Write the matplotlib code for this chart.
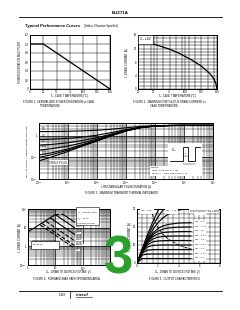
import numpy as np
import matplotlib
matplotlib.use("Agg")
import matplotlib.pyplot as plt
from matplotlib.ticker import MultipleLocator, LogLocator, NullFormatter, FixedLocator, FixedFormatter

plt.rcParams['font.family'] = ['Liberation Sans', 'DejaVu Sans']
plt.rcParams['mathtext.fontset'] = 'custom'
plt.rcParams['mathtext.rm'] = 'Liberation Sans'
plt.rcParams['mathtext.it'] = 'Liberation Sans:italic'

# ---------------- data ----------------
# Figure 1: normalized power dissipation
fig1_temp = [0, 25, 150]
fig1_mult = [1.0, 1.0, 0.0]

# Figure 2: max continuous drain current vs case temperature
fig2_temp = [25, 40, 50, 60, 75, 90, 100, 110, 125, 135, 140, 145, 148, 150]
fig2_id = [14.0, 13.8, 13.3, 12.7, 11.8, 10.6, 9.6, 8.6, 6.8, 5.2, 4.3, 3.0, 1.8, 0.0]

# Figure 3: transient thermal impedance
fig3_t = [1e-5, 3e-5, 1e-4, 3e-4, 1e-3, 3e-3, 1e-2, 3e-2, 1e-1, 3e-1, 1, 3, 10]
fig3_labels = ["0.5", "0.2", "0.1", "0.05", "0.02", "0.01", "SINGLE PULSE"]
fig3_z05 = [1.59, 1.61, 1.65, 1.72, 1.84, 2.05, 2.40, 2.75, 3.00, 3.08, 3.10, 3.10, 3.10]
fig3_z02 = [0.68, 0.71, 0.77, 0.88, 1.08, 1.42, 1.98, 2.54, 2.94, 3.06, 3.10, 3.10, 3.10]
fig3_z01 = [0.37, 0.41, 0.48, 0.61, 0.83, 1.21, 1.84, 2.47, 2.92, 3.06, 3.10, 3.10, 3.10]
fig3_z005 = [0.22, 0.26, 0.34, 0.47, 0.71, 1.11, 1.77, 2.44, 2.91, 3.05, 3.10, 3.10, 3.10]
fig3_z002 = [0.13, 0.17, 0.25, 0.39, 0.63, 1.04, 1.73, 2.41, 2.90, 3.05, 3.10, 3.10, 3.10]
fig3_z001 = [0.10, 0.14, 0.22, 0.36, 0.60, 1.02, 1.71, 2.41, 2.90, 3.05, 3.10, 3.10, 3.10]
fig3_zsp = [0.07, 0.11, 0.19, 0.33, 0.58, 1.00, 1.70, 2.40, 2.90, 3.05, 3.10, 3.10, 3.10]

# Figure 4: forward bias SOA
fig4_rds_v = [1, 10]
fig4_rds_i = [6, 50]
fig4_labels = ["10µs", "100µs", "1ms", "10ms", "100ms", "DC"]
fig4_v_start = [19, 10, 6.6, 4.5, 3.3, 2.8]
fig4_i_start = [52, 50, 33, 22, 16.6, 14]
fig4_v_end = [50, 50, 50, 50, 50, 50]
fig4_i_end = [20, 10, 4.4, 2.0, 1.1, 0.8]

# Figure 5: output characteristics
fig5_vds = [0, 0.5, 1, 1.5, 2, 2.5, 3, 4, 5.2]
fig5_vgs_labels = ["20V", "10V", "9V", "8V", "7.5V", "7V", "6.5V", "6V", "5.5V", "5V", "4.5V", "4V"]
fig5_id = [
    [0, 7.9, 15.6, 22.6, 28.8, 34.2, 38.5, 45, 50],
    [0, 7.4, 14.3, 20.4, 25.4, 29.4, 32.4, 36.3, 38.6],
    [0, 6.9, 13.1, 18.3, 22.3, 25.1, 27.1, 29.4, 30.4],
    [0, 6.8, 12.4, 16.5, 19.1, 20.6, 21.4, 22.2, 22.4],
    [0, 6.7, 12.1, 15.6, 17.7, 18.8, 19.4, 19.9, 20.0],
    [0, 6.6, 11.6, 14.6, 16.1, 16.9, 17.2, 17.45, 17.5],
    [0, 6.5, 11.0, 13.3, 14.3, 14.7, 14.9, 15.0, 15.0],
    [0, 6.3, 10.1, 11.7, 12.2, 12.4, 12.5, 12.5, 12.5],
    [0, 6.0, 8.9, 9.7, 9.9, 10.0, 10.0, 10.0, 10.0],
    [0, 5.5, 7.1, 7.45, 7.5, 7.5, 7.5, 7.5, 7.5],
    [0, 4.4, 4.97, 5.0, 5.0, 5.0, 5.0, 5.0, 5.0],
    [0, 2.48, 2.5, 2.5, 2.5, 2.5, 2.5, 2.5, 2.5],
]
fig5_pd_v = [1.35, 1.6, 2, 2.5, 3, 4, 5, 6.3]
fig5_pd_i = [29.6, 25, 20, 16, 13.3, 10, 8, 6.35]

# ---------------- layout helpers ----------------
W, H = 240, 310
fig = plt.figure(figsize=(2.4, 3.1), dpi=100)
fig.patch.set_facecolor('white')

TS = 2.0   # tick label size
SS = 2.0   # small text


def add_ax(x0, y0, x1, y1):
    ax = fig.add_axes([x0 / W, 1 - y1 / H, (x1 - x0) / W, (y1 - y0) / H])
    for s in ax.spines.values():
        s.set_linewidth(0.7)
    ax.tick_params(which='both', length=0, labelsize=TS, pad=1.0)
    ax.tick_params(axis='x', pad=0.5)
    return ax


def ftext(x, y, s, **kw):
    kw.setdefault('fontsize', SS)
    kw.setdefault('va', 'center')
    fig.text(x / W, 1 - y / H, s, **kw)


def fline(xs, ys, lw=0.6):
    fig.add_artist(plt.Line2D([x / W for x in xs], [1 - y / H for y in ys], color='black', lw=lw))


# header
ftext(120, 13, "BUZ71A", ha='center', fontsize=3.2, fontweight='bold')
fline([19, 222], [17, 17], lw=0.6)
ftext(25, 25.5, "Typical Performance Curves", fontsize=3.0, fontweight='bold', style='italic')
ftext(84, 25.5, "(Unless Otherwise Specified)", fontsize=1.9)

# ---------------- Figure 1 ----------------
ax1 = add_ax(30, 35, 110, 89)
ax1.plot(fig1_temp, fig1_mult, color='black', lw=0.9)
ax1.set_xlim(0, 150)
ax1.set_ylim(0, 1.2)
ax1.set_xticks(np.arange(0, 151, 25))
ax1.set_yticks(np.arange(0, 1.21, 0.2))
ax1.set_yticklabels(["0", "0.2", "0.4", "0.6", "0.8", "1.0", "1.2"])
ax1.grid(True, color='black', lw=0.35)
ftext(20, 62, "POWER DISSIPATION MULTIPLIER", rotation=90, ha='center', fontsize=1.8)
ftext(70, 96.5, "T$_C$, CASE TEMPERATURE ($^o$C)", ha='center', fontsize=1.9)
ftext(23, 101.8, "FIGURE 1.  NORMALIZED POWER DISSIPATION vs CASE", fontsize=1.9)
ftext(40, 105.6, "TEMPERATURE", fontsize=1.9)

# ---------------- Figure 2 ----------------
ax2 = add_ax(138, 35, 217, 89)
ax2.plot(fig2_temp, fig2_id, color='black', lw=0.9)
ax2.set_xlim(25, 150)
ax2.set_ylim(0, 16)
ax2.set_xticks([25, 50, 75, 100, 125, 150])
ax2.xaxis.set_minor_locator(FixedLocator(np.arange(35, 150, 10)))
ax2.set_yticks([0, 4, 8, 12, 16])
ax2.yaxis.set_minor_locator(MultipleLocator(1))
ax2.grid(True, which='both', color='black', lw=0.35)
ax2.text(0.01, 0.985, "V$_{GS}$ ≥ 10V", transform=ax2.transAxes, fontsize=1.8, va='top', ha='left',
         bbox=dict(facecolor='white', edgecolor='black', lw=0.4, pad=0.6))
ftext(127, 62, "I$_D$, DRAIN CURRENT (A)", rotation=90, ha='center', fontsize=1.9)
ftext(178, 96.5, "T$_C$, CASE TEMPERATURE ($^o$C)", ha='center', fontsize=1.9)
ftext(133, 101.8, "FIGURE 2.  MAXIMUM CONTINUOUS DRAIN CURRENT vs", fontsize=1.9)
ftext(150, 105.6, "CASE TEMPERATURE", fontsize=1.9)

# ---------------- Figure 3 ----------------
ax3 = add_ax(39, 123, 213, 179)
for z in [fig3_z05, fig3_z02, fig3_z01, fig3_z005, fig3_z002, fig3_z001, fig3_zsp]:
    ax3.plot(fig3_t, z, color='black', lw=0.8)
ax3.set_xscale('log')
ax3.set_yscale('log')
ax3.set_xlim(1e-5, 10)
ax3.set_ylim(0.01, 4)
ax3.xaxis.set_major_locator(FixedLocator([1e-5, 1e-4, 1e-3, 1e-2, 1e-1, 1, 10]))
ax3.xaxis.set_major_formatter(FixedFormatter(["10$^{-5}$", "10$^{-4}$", "10$^{-3}$", "10$^{-2}$",
                                              "10$^{-1}$", "10$^{0}$", "10$^{1}$"]))
ax3.yaxis.set_major_locator(FixedLocator([0.01, 0.1, 1]))
ax3.yaxis.set_major_formatter(FixedFormatter(["10$^{-2}$", "10$^{-1}$", "1"]))
ax3.xaxis.set_minor_locator(LogLocator(base=10, subs=np.arange(2, 10), numticks=20))
ax3.yaxis.set_minor_locator(LogLocator(base=10, subs=np.arange(2, 10), numticks=20))
ax3.xaxis.set_minor_formatter(NullFormatter())
ax3.yaxis.set_minor_formatter(NullFormatter())
ax3.grid(True, which='major', color='black', lw=0.5)
ax3.grid(True, which='minor', color='black', lw=0.3)
label_y = [1.75, 0.8, 0.45, 0.27, 0.17, 0.12]
for lab, y in zip(fig3_labels[:-1], label_y):
    ax3.text(1.3e-5, y, lab, fontsize=1.8, va='bottom', ha='left')
ax3.text(2.2e-5, 0.058, fig3_labels[-1], fontsize=1.8, va='center', ha='left',
         bbox=dict(facecolor='white', edgecolor='none', pad=0.3))
# inset with pulse waveform and notes
ins = fig.add_axes([150 / W, 1 - 176 / H, 52 / W, 33 / H])
ins.set_xlim(0, 52)
ins.set_ylim(33, 0)
ins.axis('off')
ins.add_patch(plt.Rectangle((18, 0), 34, 23, facecolor='white', edgecolor='none'))
ins.add_patch(plt.Rectangle((0, 23), 52, 10, facecolor='white', edgecolor='none'))
ins.plot([20, 33, 33, 38, 38, 45, 45, 50], [18, 18, 4, 4, 18, 18, 4, 4], color='black', lw=0.6)
ins.text(21, 7, "P$_{DM}$", fontsize=1.8, va='center')
ins.plot([33, 38], [13, 13], color='black', lw=0.3)
ins.text(34, 11.5, "t$_1$", fontsize=1.6)
ins.plot([33, 45], [21, 21], color='black', lw=0.3)
ins.text(39, 20, "t$_2$", fontsize=1.6)
ins.text(1, 25, "NOTES:", fontsize=1.7, va='center')
ins.text(1, 28, "DUTY FACTOR: D = t$_1$/t$_2$", fontsize=1.7, va='center')
ins.text(1, 31, "PEAK T$_J$ = P$_{DM}$ x Z$_{θJC}$ x R$_{θJC}$ + T$_C$", fontsize=1.7, va='center')
ftext(27, 151, "Z$_{θJC}$, TRANSIENT THERMAL IMPEDANCE (K/W)", rotation=90, ha='center', fontsize=1.7)
ftext(126, 186.8, "t, RECTANGULAR PULSE DURATION (s)", ha='center', fontsize=1.9)
ftext(122, 193.5, "FIGURE 3.  MAXIMUM TRANSIENT THERMAL IMPEDANCE", ha='center', fontsize=1.9)

# ---------------- Figure 4 ----------------
ax4 = add_ax(28, 209, 110, 265)
ax4.plot(fig4_rds_v, fig4_rds_i, color='black', lw=0.8)
ax4.plot([10, 19], [50, 52], color='black', lw=0.8, ls='--')
for vs, i_s, ve, ie in zip(fig4_v_start, fig4_i_start, fig4_v_end, fig4_i_end):
    ax4.plot([vs, ve], [i_s, ie], color='black', lw=0.8, ls='--' if vs < 5 else '-')
ax4.set_xscale('log')
ax4.set_yscale('log')
ax4.set_xlim(1, 1000)
ax4.set_ylim(0.1, 100)
ax4.xaxis.set_major_locator(FixedLocator([1, 10, 100, 1000]))
ax4.xaxis.set_major_formatter(FixedFormatter(["1", "10", "10$^2$", "10$^3$"]))
ax4.yaxis.set_major_locator(FixedLocator([0.1, 1, 10, 100]))
ax4.yaxis.set_major_formatter(FixedFormatter(["10$^{-1}$", "1", "10", "10$^2$"]))
ax4.xaxis.set_minor_locator(LogLocator(base=10, subs=np.arange(2, 10), numticks=20))
ax4.yaxis.set_minor_locator(LogLocator(base=10, subs=np.arange(2, 10), numticks=20))
ax4.xaxis.set_minor_formatter(NullFormatter())
ax4.yaxis.set_minor_formatter(NullFormatter())
ax4.grid(True, which='major', color='black', lw=0.5)
ax4.grid(True, which='minor', color='black', lw=0.3)
lab_i = [20, 11, 5.2, 2.2, 1.2, 0.64]
for lab, yi in zip(fig4_labels, lab_i):
    ax4.text(58, yi, lab, fontsize=1.7, va='center', ha='left',
             bbox=dict(facecolor='white', edgecolor='none', pad=0.2))
ax4.text(0.6, 0.985, "T$_J$ = MAX RATED\nT$_C$ = 25$^o$C\nSINGLE PULSE", transform=ax4.transAxes,
         fontsize=1.7, va='top', ha='left', linespacing=1.1,
         bbox=dict(facecolor='white', edgecolor='black', lw=0.4, pad=0.6))
ax4.text(0.05, 0.38, "OPERATION IN THIS\nAREA MAY BE LIMITED\nBY r$_{DS(ON)}$", transform=ax4.transAxes,
         fontsize=1.7, va='center', ha='left', linespacing=1.1,
         bbox=dict(facecolor='white', edgecolor='black', lw=0.4, pad=0.6))
ftext(19.5, 237, "I$_D$, DRAIN CURRENT (A)", rotation=90, ha='center', fontsize=1.9)
ftext(69, 272.5, "V$_{DS}$, DRAIN TO SOURCE VOLTAGE (V)", ha='center', fontsize=1.8)
ftext(66, 278.8, "FIGURE 4.  FORWARD BIAS SAFE OPERATING AREA", ha='center', fontsize=1.9)

# ---------------- Figure 5 ----------------
ax5 = add_ax(137, 209, 220, 263)
for curve in fig5_id:
    ax5.plot(fig5_vds, curve, color='black', lw=0.8)
ax5.plot(fig5_pd_v, fig5_pd_i, color='black', lw=0.6, ls='--')
ax5.set_xlim(0, 8)
ax5.set_ylim(0, 30)
ax5.set_xticks([0, 2, 4, 6, 8])
ax5.set_yticks([0, 10, 20, 30])
ax5.xaxis.set_minor_locator(MultipleLocator(0.5))
ax5.yaxis.set_minor_locator(MultipleLocator(2.5))
ax5.grid(True, which='both', color='black', lw=0.3)
for lab, curve in zip(fig5_vgs_labels[2:], fig5_id[2:]):
    yl = min(curve[-1], 28.5)
    ax5.text(5.5, yl, "V$_{GS}$ = " + lab, fontsize=1.7, va='center', ha='left',
             bbox=dict(facecolor='white', edgecolor='none', pad=0.2))
ax5.text(0.04, 0.955, "V$_{GS}$ = 20V", transform=ax5.transAxes, fontsize=1.7, va='center',
         bbox=dict(facecolor='white', edgecolor='none', pad=0.2))
ax5.text(0.34, 0.955, "V$_{GS}$ = 10V", transform=ax5.transAxes, fontsize=1.7, va='center',
         bbox=dict(facecolor='white', edgecolor='none', pad=0.2))
ax5.text(0.985, 0.985, "PULSE DURATION = 80µs\nDUTY CYCLE = 0.5% MAX", transform=ax5.transAxes,
         fontsize=1.7, va='top', ha='right', linespacing=1.1,
         bbox=dict(facecolor='white', edgecolor='none', pad=0.4))
ftext(129.5, 236, "I$_D$, DRAIN CURRENT (A)", rotation=90, ha='center', fontsize=1.9)
ftext(178, 272.5, "V$_{DS}$, DRAIN TO SOURCE VOLTAGE (V)", ha='center', fontsize=1.8)
ftext(174, 278.8, "FIGURE 5.  OUTPUT CHARACTERISTICS", ha='center', fontsize=1.9)

# green mark
ftext(118, 260, "3", ha='center', fontsize=38, fontweight='bold', color='#2aa12a')

# footer
fline([19, 222], [291, 291], lw=0.6)
fline([70, 70], [291, 298], lw=0.5)
ftext(66, 295, "6-118", ha='right', fontsize=2.0)
ftext(76, 294.5, "intersil", ha='left', fontsize=2.8, fontweight='bold', style='italic')
fline([76, 92], [296.8, 296.8], lw=0.4)

fig.savefig("out.png", dpi=100, facecolor='white')
